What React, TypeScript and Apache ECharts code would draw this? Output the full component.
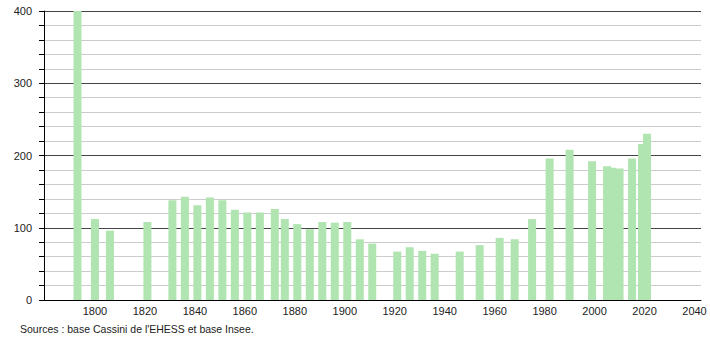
import React, { useEffect, useRef } from "react";
import * as echarts from "echarts";

const years = [
  1793, 1800, 1806, 1821, 1831, 1836, 1841, 1846, 1851, 1856, 1861, 1866, 1872,
  1876, 1881, 1886, 1891, 1896, 1901, 1906, 1911, 1921, 1926, 1931, 1936, 1946,
  1954, 1962, 1968, 1975, 1982, 1990, 1999, 2005, 2007, 2010, 2015, 2019, 2021,
];
const population = [
  400, 112, 96, 108, 138, 143, 131, 142, 138, 125, 121, 121, 126,
  112, 105, 98, 108, 107, 108, 84, 78, 67, 73, 68, 64, 67,
  76, 86, 84, 112, 196, 208, 192, 185, 183, 182, 196, 216, 230,
];
const xTickLabels = [1800, 1820, 1840, 1860, 1880, 1900, 1920, 1940, 1960, 1980, 2000, 2020, 2040];
const sourceText = "Sources : base Cassini de l'EHESS et base Insee.";

const FONT = "Liberation Sans, Arial, sans-serif";

export default function App() {
  const ref = useRef<HTMLDivElement>(null);
  useEffect(() => {
    if (!ref.current) return;
    const chart = echarts.init(ref.current, undefined, { renderer: "svg" });
    chart.setOption({
      animation: false,
      backgroundColor: "#ffffff",
      title: {
        text: sourceText,
        left: 20,
        top: 323,
        padding: 0,
        textStyle: { fontFamily: FONT, fontSize: 10.5, fontWeight: "normal", color: "#222" },
      },
      grid: { left: 44, right: 9, top: 11, bottom: 40, containLabel: false },
      xAxis: {
        type: "value",
        min: 1779.6,
        max: 2042.6,
        axisLine: { show: true, lineStyle: { color: "#000", width: 1 } },
        axisTick: { show: false },
        splitLine: { show: false },
        axisLabel: {
          customValues: xTickLabels,
          margin: 5,
          fontFamily: FONT,
          fontSize: 11,
          color: "#222",
          formatter: (v: number) => String(v),
        },
      },
      yAxis: {
        type: "value",
        min: 0,
        max: 400,
        interval: 100,
        axisLine: { show: true, lineStyle: { color: "#000", width: 1 } },
        axisTick: { show: true, length: 5, lineStyle: { color: "#000" } },
        minorTick: { show: true, splitNumber: 5, length: 5, lineStyle: { color: "#000" } },
        splitLine: { show: true, lineStyle: { color: "#444", width: 1 } },
        minorSplitLine: { show: true, lineStyle: { color: "#cccccc", width: 1 } },
        axisLabel: { margin: 12, fontFamily: FONT, fontSize: 11, color: "#222" },
      },
      series: [
        {
          type: "bar",
          barWidth: 8,
          data: years.map((y, i) => [y, population[i]]),
          itemStyle: { color: "#b0e4b0" },
          emphasis: { disabled: true },
        },
      ],
    });
    return () => chart.dispose();
  }, []);
  return (
    <div
      ref={ref}
      style={{ position: "absolute", left: 0, top: 0, width: 710, height: 340 }}
    />
  );
}
